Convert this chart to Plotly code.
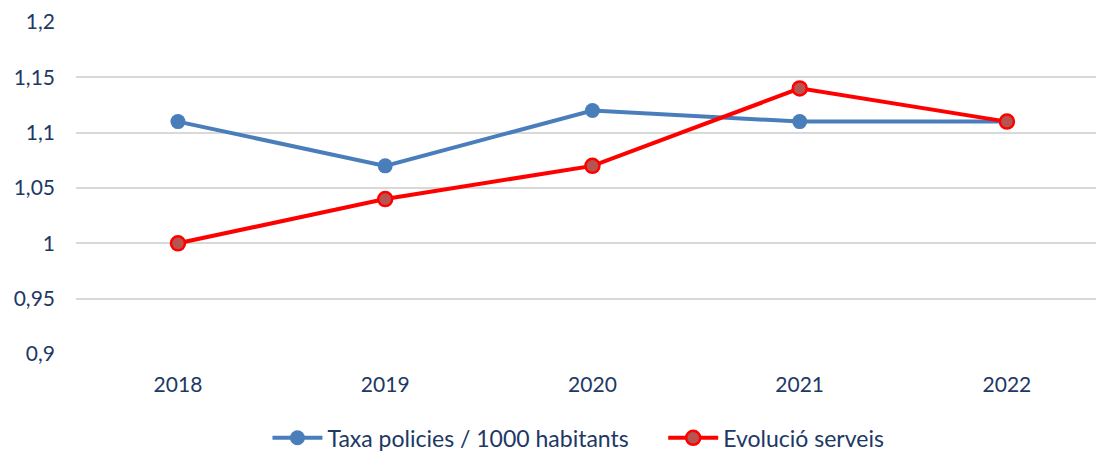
import plotly.graph_objects as go

# Valors llegits del gràfic original.
anys = ["2018", "2019", "2020", "2021", "2022"]
taxa_policies = [1.11, 1.07, 1.12, 1.11, 1.11]
evolucio_serveis = [1.00, 1.04, 1.07, 1.14, 1.11]
y_ticks = [0.9, 0.95, 1.0, 1.05, 1.1, 1.15, 1.2]
y_labels = ["0,9", "0,95", "1", "1,05", "1,1", "1,15", "1,2"]

text_color = "#203864"

fig = go.Figure()

fig.add_trace(
    go.Scatter(
        x=anys,
        y=taxa_policies,
        name="Taxa policies / 1000 habitants" + "\u00a0" * 5,
        mode="lines+markers",
        line=dict(color="#4A7EBB", width=4),
        marker=dict(size=15, color="#4A7EBB"),
        cliponaxis=False,
    )
)

fig.add_trace(
    go.Scatter(
        x=anys,
        y=evolucio_serveis,
        name="Evolució serveis",
        mode="lines+markers",
        line=dict(color="#FF0000", width=4),
        marker=dict(size=14, color="#B85450",
                    line=dict(color="#FF0000", width=2.5)),
        cliponaxis=False,
    )
)

fig.update_xaxes(
    type="category",
    range=[-0.492, 4.507],
    automargin=False,
    showgrid=False,
    zeroline=False,
    showline=False,
    ticks="",
    ticklabelstandoff=16,
    tickfont=dict(size=21, color=text_color),
)

fig.update_yaxes(
    range=[0.9, 1.2],
    tickvals=y_ticks,
    ticktext=y_labels,
    automargin=False,
    ticklabeloverflow="allow",
    showgrid=True,
    gridcolor="#D9D9D9",
    gridwidth=1.5,
    zeroline=False,
    showline=False,
    ticks="",
    ticklabelstandoff=20,
    tickfont=dict(size=21, color=text_color),
)

# La pàgina té un marge de 8 px, per això els marges es compensen.
fig.update_layout(
    width=1104,
    height=452,
    font_family="Lato",
    plot_bgcolor="#FFFFFF",
    paper_bgcolor="#FFFFFF",
    margin=dict(l=68, r=0, t=14, b=106),
    showlegend=True,
    legend=dict(
        orientation="h",
        x=0.485,
        xanchor="center",
        yref="container",
        y=0.049,
        yanchor="middle",
        itemwidth=50,
        font=dict(size=23, color=text_color),
        traceorder="normal",
    ),
)

fig.write_html("out.html")
